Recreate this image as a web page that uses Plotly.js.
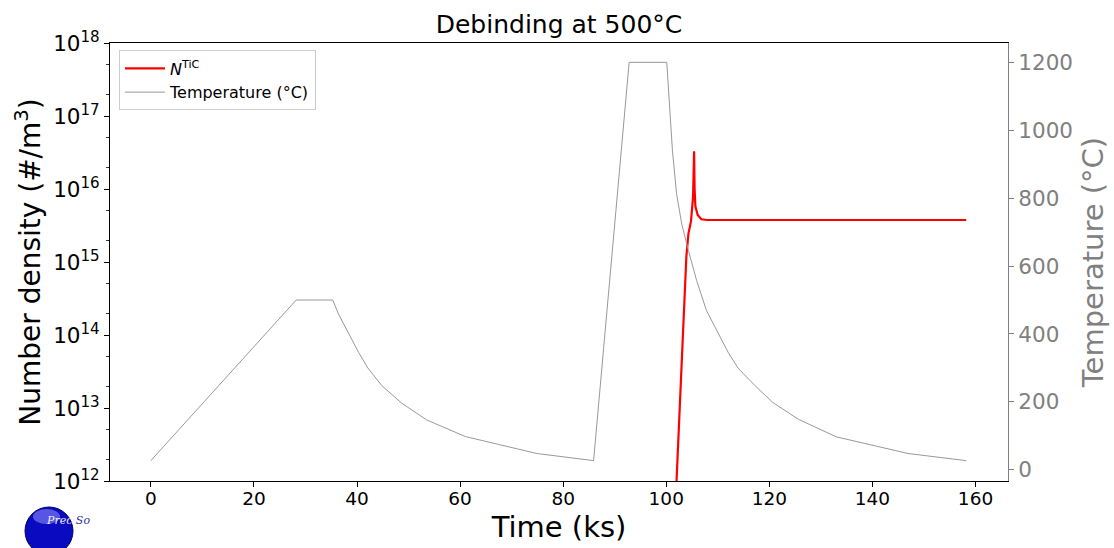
<!DOCTYPE html>
<html><head><meta charset="utf-8">
<script src="https://cdn.plot.ly/plotly-3.0.1.min.js"></script>
<style>html,body{margin:0;padding:0;background:#fff}#chart{width:1114px;height:548px}</style>
</head><body><div id="chart"></div>
<script>
// Temperature profile (time in ks, temperature in °C)
const timeT = [0, 28.2, 35.3, 36.4, 37.4, 38.4, 40.3, 42.1, 44.8, 48.6, 53.5, 61.0, 74.9, 85.9,
               92.8, 100.1, 100.6, 101.2, 102.0, 103.0, 104.3, 105.9, 107.8, 110.1, 112.0, 113.9,
               117.2, 120.7, 125.6, 133.0, 146.9, 158.2];
const tempT = [27, 500, 500, 459, 430, 400, 346, 300, 248, 197, 147, 98, 48, 27,
               1200, 1200, 1088, 940, 813, 724, 646, 557, 469, 400, 346, 300,
               248, 198, 149, 97, 48, 27];
// Number density of TiC precipitates (#/m^3)
const timeN = [101.5, 102.0, 102.8, 103.5, 103.9, 104.3, 104.8, 105.2, 105.4, 105.5, 105.65,
               106.1, 106.8, 108.0, 158.2];
const numN  = [1.6e11, 1.0e12, 2.2e13, 2.2e14, 1.2e15, 2.45e15, 3.6e15, 7.9e15, 3.3e16, 1.0e16, 5.8e15,
               4.4e15, 3.85e15, 3.76e15, 3.76e15];
// Axis ticks
const xTicks = [0, 20, 40, 60, 80, 100, 120, 140, 160];
const yExps = [12, 13, 14, 15, 16, 17, 18];
const tTicks = [0, 200, 400, 600, 800, 1000, 1200];

const gray = '#808080';
const traces = [
  {x: timeN, y: numN, type: 'scatter', mode: 'lines', name: '<i>N</i><sup>TiC</sup>',
   line: {color: '#ff0000', width: 2.2}, yaxis: 'y'},
  {x: timeT, y: tempT, type: 'scatter', mode: 'lines', name: 'Temperature (°C)',
   line: {color: '#999999', width: 1}, yaxis: 'y2'}
];

const layout = {
  width: 1114, height: 548,
  margin: {l: 110, r: 106, t: 43, b: 67},
  paper_bgcolor: '#fff', plot_bgcolor: '#fff',
  font: {family: 'DejaVu Sans', color: '#000'},
  title: {text: 'Debinding at 500°C', font: {size: 25, color: '#000'}, x: 0.5, xref: 'paper',
          y: 1 - 24/548, yref: 'container', yanchor: 'middle'},
  showlegend: true,
  legend: {x: 0.01, y: 0.983, xanchor: 'left', yanchor: 'top', bgcolor: 'rgba(255,255,255,0.9)',
           bordercolor: '#cccccc', borderwidth: 1, font: {size: 16}, tracegroupgap: 0, itemwidth: 40},
  xaxis: {range: [-7.92, 166.3], tickvals: xTicks, ticks: 'outside', ticklen: 5, tickwidth: 1,
          tickcolor: '#000', showline: true, linecolor: '#000', linewidth: 1, mirror: true,
          showgrid: false, zeroline: false, tickfont: {size: 18.5}, ticklabelstandoff: -4,
          title: {text: 'Time (ks)', font: {size: 29}, standoff: 8}},
  yaxis: {type: 'log', range: [12, 18], tickvals: yExps.map(e => Math.pow(10, e)),
          ticktext: yExps.map(e => '10<sup>' + e + '</sup>'),
          ticks: 'outside', ticklen: 5, tickwidth: 1, tickcolor: '#000',
          minor: {ticks: 'outside', ticklen: 3, tickwidth: 0.8, tickcolor: '#000', showgrid: false},
          showline: true, linecolor: '#000', linewidth: 1, showgrid: false, zeroline: false,
          tickfont: {size: 21.5},
          title: {text: 'Number density (#/m<sup>3</sup>)', font: {size: 28}, standoff: 4}},
  yaxis2: {overlaying: 'y', side: 'right', range: [-33, 1257], tickvals: tTicks,
           ticks: 'outside', ticklen: 5, tickwidth: 1, tickcolor: gray,
           showline: true, linecolor: gray, linewidth: 1, showgrid: false, zeroline: false,
           tickfont: {size: 21.5, color: gray},
           title: {text: 'Temperature (°C)', font: {size: 29, color: gray}, standoff: 10}},
  shapes: [
    {type: 'circle', xref: 'paper', yref: 'paper', x0: (25-110)/898, x1: (73-110)/898,
     y0: (481-555)/438, y1: (481-507)/438, fillcolor: '#0a0ac0', line: {color: '#00006a', width: 1}},
    {type: 'circle', xref: 'paper', yref: 'paper', x0: (33-110)/898, x1: (60-110)/898,
     y0: (481-524)/438, y1: (481-509)/438, fillcolor: 'rgba(150,150,255,0.55)', line: {width: 0}}
  ],
  annotations: [
    {text: '<i><span style="color:#f0f0ff">Preci</span><span style="color:#3030a0">So</span></i>',
     xref: 'paper', yref: 'paper', x: (68-110)/898, y: (481-520)/438,
     xanchor: 'center', yanchor: 'middle', showarrow: false,
     font: {family: 'DejaVu Serif', size: 11, color: '#e6e6ff'}}
  ]
};

Plotly.newPlot('chart', traces, layout, {displayModeBar: false, staticPlot: true});
</script></body></html>
